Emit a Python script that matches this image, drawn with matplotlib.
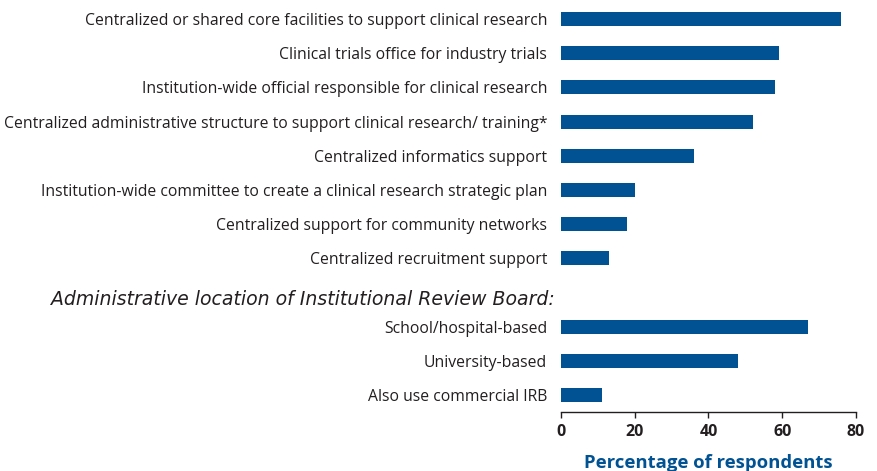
import matplotlib
matplotlib.use("Agg")
import matplotlib.pyplot as plt
import matplotlib.transforms as mtransforms

categories = [
    "Centralized or shared core facilities to support clinical research",
    "Clinical trials office for industry trials",
    "Institution-wide official responsible for clinical research",
    "Centralized administrative structure to support clinical research/ training*",
    "Centralized informatics support",
    "Institution-wide committee to create a clinical research strategic plan",
    "Centralized support for community networks",
    "Centralized recruitment support",
]
values = [76, 59, 58, 52, 36, 20, 18, 13]

irb_heading = "Administrative location of Institutional Review Board:"
irb_categories = ["School/hospital-based", "University-based", "Also use commercial IRB"]
irb_values = [67, 48, 11]

x_ticks = [0, 20, 40, 60, 80]
x_label = "Percentage of respondents"

bar_color = "#005293"
text_color = "#231f20"

plt.rcParams['font.family'] = ['Open Sans', 'DejaVu Sans']

fig = plt.figure(figsize=(8.78, 4.71), dpi=100)
ax = fig.add_axes([561/878, (471-412)/471, (856-561)/878, 410/471])

labels = categories + [""] + irb_categories
vals = values + [0] + irb_values
pos = list(range(len(labels)))
bar_pos = [p for p, l in zip(pos, labels) if l != ""]
bar_vals = [v for v, l in zip(vals, labels) if l != ""]
ax.barh(bar_pos, bar_vals, height=0.41, color=bar_color)

ax.set_ylim(len(labels) - 0.5, -0.5)
ax.set_xlim(0, 80)
ax.set_yticks(pos)
ax.set_yticklabels(labels, fontsize=11.3, color=text_color)
ax.tick_params(axis='y', length=0, pad=10)
ax.set_xticks(x_ticks)
ax.set_xticklabels([str(t) for t in x_ticks], fontsize=11.5, fontweight='bold', color=text_color)
ax.tick_params(axis='x', direction='out', length=4, width=1, color=text_color, pad=5)

for s in ['top', 'right', 'left']:
    ax.spines[s].set_visible(False)
ax.spines['bottom'].set_color(text_color)
ax.spines['bottom'].set_linewidth(1)

ax.set_xlabel(x_label, fontsize=13.3, fontweight='bold', color=bar_color, labelpad=10)

trans = mtransforms.blended_transform_factory(fig.transFigure, ax.transData)
ax.text(555/878, len(categories) + 0.2, irb_heading, transform=trans, ha='right', va='center',
        fontsize=13.6, style='italic', color=text_color, family=['DejaVu Sans'])

fig.savefig("out.png", dpi=100)
